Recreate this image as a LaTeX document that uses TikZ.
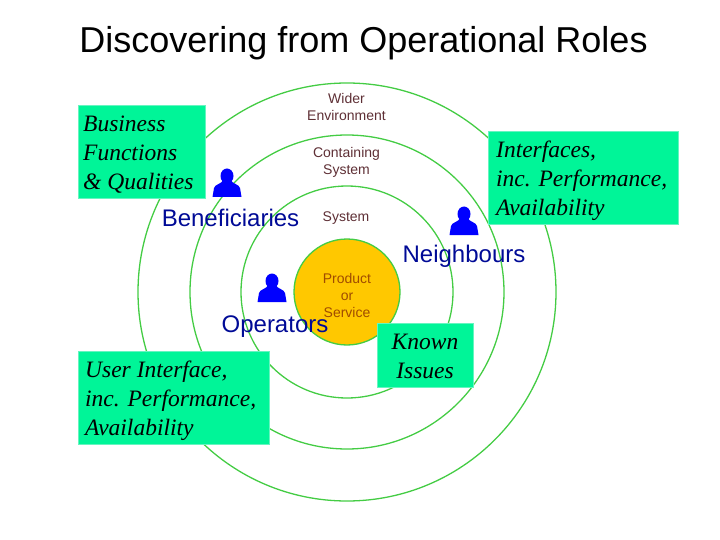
\documentclass[tikz,border=0pt]{standalone}
\usepackage{fontspec}
\setmainfont{Liberation Serif}
\newfontfamily\arialfont{Liberation Sans}
\definecolor{ringgreen}{HTML}{44CC44}
\definecolor{boxgreen}{HTML}{00F598}
\definecolor{boxedge}{HTML}{66F5C0}
\definecolor{coreyellow}{HTML}{FFC800}
\definecolor{rolenavy}{HTML}{000A96}
\definecolor{scopebrown}{HTML}{5E2F35}
\definecolor{corebrown}{HTML}{A04C00}
\tikzset{
  ring/.style={circle,draw=ringgreen,line width=1.3pt,inner sep=0pt},
  notebox/.style={rectangle,draw=boxedge,fill=boxgreen,line width=0.8pt,inner sep=0pt,anchor=north west},
  notetext/.style={font=\fontsize{23.5}{29}\selectfont\itshape,align=left,text=black,inner sep=0pt},
  rolelabel/.style={font=\arialfont\fontsize{24}{26}\selectfont,text=rolenavy,inner sep=0pt},
  scopelabel/.style={font=\arialfont\fontsize{14}{17}\selectfont,text=scopebrown,align=center,inner sep=0pt},
  person/.pic={
    \fill[blue] (0,-7) circle[x radius=6.5,y radius=7.5];
    \fill[blue] (-14.5,14) -- (14.5,14) -- (13,5) .. controls (12,1) and (5,1) .. (4,-3)
      -- (-4,-3) .. controls (-5,1) and (-12,1) .. (-13,5) -- cycle;
  }
}
\begin{document}
\begin{tikzpicture}[x=1pt,y=-1pt]
\useasboundingbox (0,0) rectangle (720,540);
\node[ring,minimum size=418pt] (wider) at (347,292) {};
\node[ring,minimum size=314pt] (containing) at (347,292) {};
\node[ring,minimum size=212pt] (system) at (347,292) {};
\node[ring,fill=coreyellow,minimum size=106pt] (core) at (347,292) {};

\node[font=\arialfont\fontsize{36}{40}\selectfont,inner sep=0pt] (title) at (363.5,43) {Discovering from Operational Roles};

\pic (benefit) at (227,183) {person};
\pic (neighbour) at (464,221) {person};
\pic (operator) at (272,288) {person};

\node[scopelabel] (widerlabel) at (346.5,107) {Wider\\Environment};
\node[scopelabel] (containinglabel) at (346.5,162) {Containing\\System};
\node[scopelabel] (systemlabel) at (346,218) {System};
\node[scopelabel,text=corebrown] (corelabel) at (347,295) {Product\\or\\Service};

\node[notebox,minimum width=127pt,minimum height=93pt] (business) at (78,105) {};
\node[notetext,anchor=west] (businesstext) at (83,155) {Business\\Functions\\\& Qualities};
\node[notebox,minimum width=190pt,minimum height=93pt] (interfaces) at (488,131) {};
\node[notetext,anchor=west] (interfacestext) at (496,181) {Interfaces,\\inc. Performance,\\Availability};
\node[notebox,minimum width=96pt,minimum height=64pt] (issues) at (377,323) {};
\node[notetext,align=center] (issuestext) at (425,356) {Known\\Issues};
\node[notebox,minimum width=191pt,minimum height=93pt] (userif) at (78,351) {};
\node[notetext,anchor=west] (useriftext) at (85,401) {User Interface,\\inc. Performance,\\Availability};

\node[rolelabel] (benefitlabel) at (230.5,218) {Beneficiaries};
\node[rolelabel] (neighbourlabel) at (464,256) {Neighbours};
\node[rolelabel] (operatorlabel) at (275,327) {Operators};
\end{tikzpicture}
\end{document}
